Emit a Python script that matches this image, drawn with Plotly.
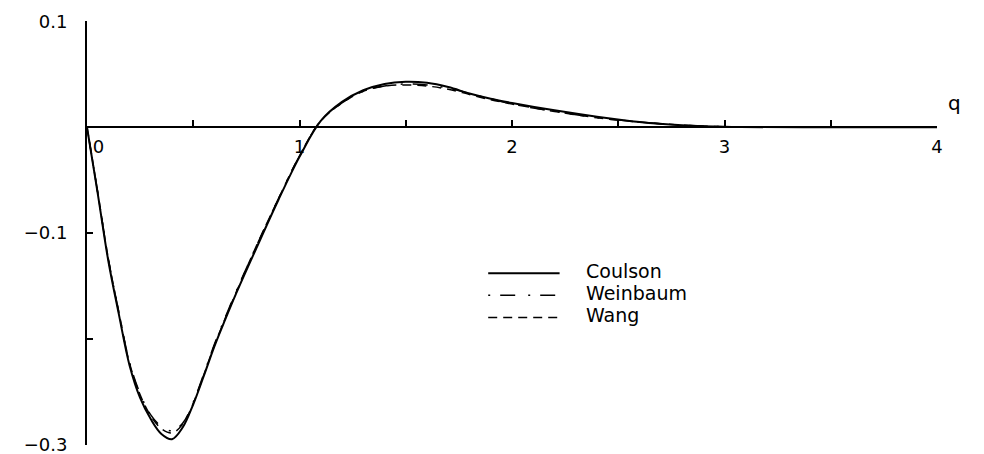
import plotly.graph_objects as go

# momentum q and the three curves
q = [0, 0.05, 0.1, 0.15, 0.2, 0.25, 0.3, 0.35, 0.4, 0.45, 0.5, 0.55, 0.6, 0.65, 0.7,
     0.8, 0.9, 1.0, 1.1, 1.2, 1.3, 1.4, 1.5, 1.6, 1.7, 1.8, 1.9, 2.0, 2.2, 2.4, 2.6,
     2.8, 3.0, 3.5, 4.0]

coulson = [0, -0.062, -0.126, -0.177, -0.225, -0.256, -0.276, -0.290, -0.295, -0.284,
           -0.262, -0.235, -0.207, -0.182, -0.158, -0.113, -0.069, -0.028, 0.006, 0.024,
           0.035, 0.041, 0.043, 0.042, 0.038, 0.032, 0.027, 0.023, 0.016, 0.010, 0.005,
           0.002, 0.0005, 0, 0]

weinbaum = [0, -0.061, -0.124, -0.175, -0.222, -0.252, -0.272, -0.283, -0.287, -0.280,
            -0.260, -0.233, -0.205, -0.180, -0.156, -0.111, -0.068, -0.027, 0.006, 0.023,
            0.034, 0.039, 0.041, 0.040, 0.037, 0.032, 0.027, 0.022, 0.015, 0.009, 0.005,
            0.002, 0.0005, 0, 0]

wang = [0, -0.061, -0.124, -0.175, -0.223, -0.253, -0.273, -0.285, -0.289, -0.281,
        -0.261, -0.234, -0.206, -0.181, -0.157, -0.111, -0.068, -0.027, 0.006, 0.023,
        0.034, 0.039, 0.040, 0.039, 0.036, 0.031, 0.026, 0.022, 0.015, 0.009, 0.005,
        0.002, 0.0005, 0, 0]

names = ['Coulson', 'Weinbaum', 'Wang']
x_ticks = [0, 0.5, 1, 1.5, 2, 2.5, 3, 3.5, 4]
x_labels = ['\u00a0\u00a0\u00a0\u00a00', '', '1', '', '2', '', '3', '', '4']
y_ticks = [0.1, 0, -0.1, -0.2, -0.3]
y_labels = ['0.1', '', '\u22120.1', '', '\u22120.3']

font = 'DejaVu Sans'
styles = [
    dict(color='black', width=2),
    dict(color='black', width=1.5, dash='2px,10px,15px,13px'),
    dict(color='black', width=1.5, dash='9px,6px'),
]

fig = go.Figure()

for name, values, style in zip(names, [coulson, weinbaum, wang], styles):
    fig.add_trace(go.Scatter(x=q, y=values, name=name, mode='lines', line_shape='spline',
                             line=style, showlegend=False))

# hand-drawn legend, long line samples like the original
for i, (name, style) in enumerate(zip(names, styles)):
    y_leg = 0.405 - i * 0.052
    fig.add_shape(type='line', xref='paper', yref='paper', x0=0.472, x1=0.556,
                  y0=y_leg, y1=y_leg, line=style)
    fig.add_annotation(xref='paper', yref='paper', x=0.585, y=y_leg + 0.006, text=name,
                       showarrow=False, xanchor='left', yanchor='middle',
                       font=dict(family=font, size=19, color='black'))

# x axis sits on y = 0 (3/4 of the way up the plot)
fig.update_xaxes(
    range=[0, 4],
    anchor='free',
    position=0.75,
    automargin=False,
    showline=True,
    linecolor='black',
    linewidth=2,
    showgrid=False,
    zeroline=False,
    ticks='inside',
    ticklen=6,
    tickwidth=1.5,
    tickcolor='black',
    tickvals=x_ticks,
    ticktext=x_labels,
    ticklabelstandoff=3,
    tickfont=dict(family=font, size=18, color='black'),
)

fig.update_yaxes(
    range=[-0.3005, 0.1005],
    automargin=False,
    showline=True,
    linecolor='black',
    linewidth=2,
    showgrid=False,
    zeroline=False,
    ticks='inside',
    ticklen=6,
    tickwidth=1.5,
    tickcolor='black',
    tickvals=y_ticks,
    ticktext=y_labels,
    ticklabelstandoff=14,
    ticklabeloverflow='allow',
    tickfont=dict(family=font, size=18, color='black'),
)

fig.add_annotation(x=4, y=0, text='q', showarrow=False, xanchor='left', xshift=9, yshift=24,
                   font=dict(family=font, size=20, color='black'))

# the page body adds 8px around the figure, so shrink it to fit the window
fig.update_layout(
    width=976,
    height=446,
    margin=dict(l=79, r=47, t=13, b=9),
    plot_bgcolor='white',
    paper_bgcolor='white',
)

fig.write_html('out.html')
